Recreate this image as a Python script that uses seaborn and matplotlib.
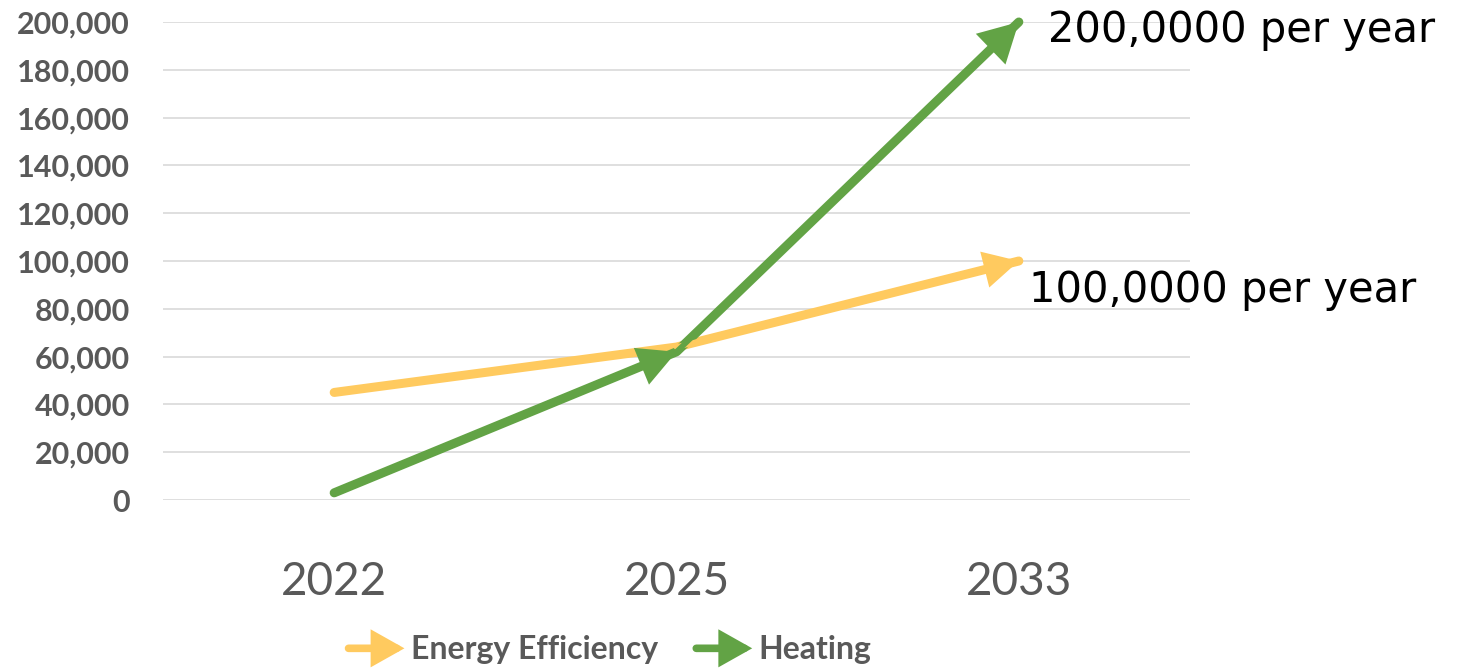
import pandas as pd
import matplotlib.pyplot as plt
import seaborn as sns
from matplotlib.lines import Line2D
from matplotlib.patches import FancyArrowPatch
from matplotlib.legend_handler import HandlerBase
from matplotlib.ticker import FuncFormatter

# chart values
years = ["2022", "2025", "2033"]
energy_efficiency = [45000, 64000, 100000]
heating = [3000, 62000, 200000]
series_names = ["Energy Efficiency", "Heating"]
end_labels = ["100,0000 per year", "200,0000 per year"]

yellow = "#FFCA5F"
green = "#62A345"
grey = "#595959"

df = pd.DataFrame({
    "year": years * 2,
    "value": energy_efficiency + heating,
    "series": [series_names[0]] * 3 + [series_names[1]] * 3,
})

sns.set_style("white")
plt.rcParams["font.family"] = ["Lato", "DejaVu Sans"]

fig = plt.figure(figsize=(14.6, 6.7), dpi=100)
ax = fig.add_axes([163 / 1460, 1 - 500 / 670, (1190 - 163) / 1460, (500 - 22) / 670])

sns.lineplot(data=df, x="year", y="value", hue="series", sort=False,
             palette=[yellow, green], linewidth=6.5, legend=False, ax=ax,
             solid_capstyle="round", zorder=3)
for line in ax.lines:
    line.set_clip_on(False)


def head(ax, x0, y0, x1, y1, color, hl, hw):
    ax.annotate("", xy=(x1, y1), xytext=(x0, y0), annotation_clip=False,
                arrowprops=dict(arrowstyle=f"-|>,head_length={hl},head_width={hw}",
                                mutation_scale=1, color=color, lw=4,
                                shrinkA=0, shrinkB=0, joinstyle="miter"),
                zorder=4)


# arrowheads at the ends of the lines
head(ax, 1, energy_efficiency[1], 2, energy_efficiency[2], yellow, 19, 10)
head(ax, 0, heating[0], 1, heating[1], green, 21, 11)
head(ax, 1, heating[1], 2, heating[2], green, 22, 12)

ax.text(2.085, heating[2] - 3500, end_labels[1], fontsize=30, color="black",
        family="DejaVu Sans", va="center", ha="left", clip_on=False)
ax.text(2.03, energy_efficiency[2] - 12000, end_labels[0], fontsize=30, color="black",
        family="DejaVu Sans", va="center", ha="left", clip_on=False)

ax.set_xlim(-0.5, 2.5)
ax.set_ylim(0, 200000)
ax.set_yticks(range(0, 200001, 20000))
ax.yaxis.set_major_formatter(FuncFormatter(lambda v, p: f"{int(v):,}"))
ax.grid(axis="y", color="#D9D9D9", linewidth=1.2)
ax.grid(axis="x", visible=False)
sns.despine(ax=ax, left=True, bottom=True)
ax.set_xlabel("")
ax.set_ylabel("")
ax.tick_params(axis="y", length=0, pad=24, labelsize=22, labelcolor=grey)
ax.tick_params(axis="x", length=0, pad=44, labelsize=33, labelcolor=grey)
for t in ax.get_yticklabels():
    t.set_fontweight("bold")


class HandlerArrow(HandlerBase):
    def create_artists(self, legend, orig_handle, xdescent, ydescent, width,
                       height, fontsize, trans):
        y = height / 2 - ydescent
        a = FancyArrowPatch((-xdescent, y), (-xdescent + width, y),
                            arrowstyle="-|>,head_length=16,head_width=9",
                            mutation_scale=1, color=orig_handle.get_color(),
                            lw=5.5, shrinkA=0, shrinkB=0, capstyle="round",
                            joinstyle="miter", transform=trans)
        return [a]


handles = [Line2D([], [], color=yellow), Line2D([], [], color=green)]
leg = fig.legend(handles, series_names, loc="center", bbox_to_anchor=(610 / 1460, 20 / 670),
                 ncol=2, frameon=False, fontsize=23, handlelength=1.75,
                 handletextpad=0.2, columnspacing=1.2,
                 handler_map={Line2D: HandlerArrow()})
for t in leg.get_texts():
    t.set_color(grey)
    t.set_fontweight("bold")

fig.savefig("out.png", dpi=100)
